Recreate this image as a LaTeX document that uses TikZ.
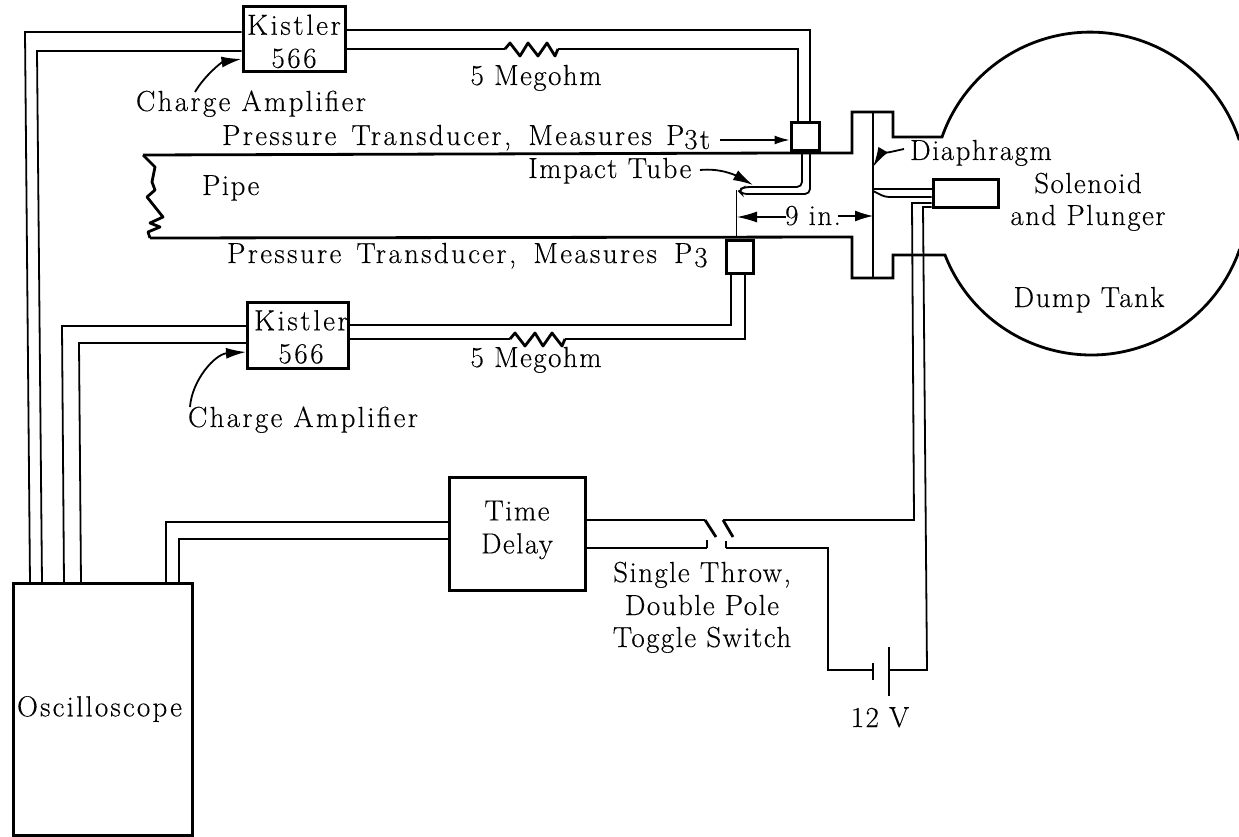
\documentclass[tikz,border=0pt]{standalone}
\usepackage{fontspec}
\setmainfont{Latin Modern Roman}[LetterSpace=5,FakeBold=0.3]
\usetikzlibrary{arrows.meta}
\tikzset{
  wire/.style={line width=1.8pt},
  pipeline/.style={line width=2.8pt},
  boxnode/.style={draw,line width=3pt,inner sep=0pt,align=center},
  lbl/.style={inner sep=0pt,anchor=base},
  lblw/.style={inner sep=0pt,anchor=base west},
  spaced/.style={execute at begin node={\addfontfeatures{LetterSpace=#1}}},
  bighead/.style={line width=1.8pt,-{Latex[length=20pt,width=11pt]}},
}
\newcommand{\lowtext}[1]{\raisebox{-4pt}{#1}}
\begin{document}
\begin{tikzpicture}[x=1pt,y=-1pt,>=latex,font=\fontsize{29}{33}\selectfont]
  \useasboundingbox (0,0) rectangle (1239,837);
  % boxes
  \node[boxnode,spaced=9,minimum width=102,minimum height=65] (kistlerA) at (294,39.5) {\rule{0pt}{24pt}Kistler\\566};
  \node[boxnode,spaced=9,minimum width=101,minimum height=66] (kistlerB) at (298,335) {\rule{0pt}{24pt}\hspace{6pt}Kistler\\\hspace{6pt}566};
  \node[boxnode,spaced=7.5,minimum width=179,minimum height=252] (scope) at (102.5,709) {\hspace{-6pt}\raisebox{2pt}{Oscilloscope}};
  \node[boxnode,minimum width=136,minimum height=113] (delay) at (517,533.5) {Time\\Delay\rule[-13pt]{0pt}{0pt}};
  \node[boxnode,minimum width=65,minimum height=28] (solenoid) at (965.5,194) {};
  \node[boxnode,minimum width=28,minimum height=28] (xducerA) at (805,137) {};
  \node[boxnode,minimum width=27,minimum height=33] (xducerB) at (739.5,256.5) {};
  % pipe, flange, tank
  \draw[pipeline] (143,155)--(790,153)--(852,153)--(852,112)--(893,112)--(893,137)--(942,137)
    arc[start angle=199.4,end angle=341.8,radius=157];
  \draw[pipeline] (150,238)--(852,237)--(852,278)--(893,278)--(893,255)--(945,255)
    arc[start angle=158.7,end angle=19,radius=157];
  \draw[pipeline,line join=round] (143,155)--(155,167)--(152,182)--(155,190)--(147,197)--(163,217)--(150,223)--(160,227)--(148,232)--(150,238);
  \draw[pipeline] (873,112)--(873,278);
  % signal wires, upper amplifier
  \draw[wire] (kistlerA.west |- 0,32)--(25,32)--(30,583);
  \draw[wire] (kistlerA.west |- 0,51)--(37,51)--(42,583);
  \draw[wire] (kistlerA.east |- 0,30)--(810,30)--(xducerA.north -| 810,0);
  \draw[wire,line join=round] (kistlerA.east |- 0,49)--(505,49);
  \draw[pipeline,line join=round] (505,49)--(510,43)--(520,56)--(528,43)--(538,56)--(547,43)--(555,56)--(558,49);
  \draw[wire] (558,49)--(798,49)--(xducerA.north -| 798,0);
  % signal wires, lower amplifier
  \draw[wire] (kistlerB.west |- 0,326)--(62,326)--(64,583);
  \draw[wire] (kistlerB.west |- 0,343)--(79,343)--(81,583);
  \draw[wire] (kistlerB.east |- 0,325)--(731,325)--(xducerB.south -| 731,0);
  \draw[wire] (kistlerB.east |- 0,339)--(510,339);
  \draw[pipeline,line join=round] (510,339)--(515,333)--(525,346)--(535,333)--(543,346)--(552,333)--(562,346)--(565,339);
  \draw[wire] (565,339)--(745,339)--(xducerB.south -| 745,0);
  % impact tube
  \draw[wire,rounded corners=5pt] (xducerA.south -| 802,0)--(802,187)--(745,187)--(738,190)--(742,194)--(810,194)--(xducerA.south -| 810,0);
  % trigger wires
  \draw[wire] (delay.west |- 0,522)--(166,522)--(166,583);
  \draw[wire] (delay.west |- 0,539)--(179,539)--(179,583);
  \draw[wire] (delay.east |- 0,520)--(705,520);
  \draw[pipeline] (705,520)--(716,537);
  \draw[wire] (delay.east |- 0,548)--(707,548);
  \draw[pipeline] (707,548)--(707,540);
  \draw[pipeline] (733,537)--(723,520);
  \draw[wire] (723,520)--(914,520)--(912,203)--(solenoid.west |- 0,203);
  \draw[pipeline] (726,541)--(726,548);
  \draw[wire] (726,548)--(828,548)--(828,670)--(873,670);
  \draw[wire] (889,670)--(927,670)--(923,207)--(solenoid.west |- 0,207);
  \draw[pipeline] (873,663)--(873,680);
  \draw[pipeline] (889,647)--(889,696);
  \draw[wire] (873,189)--(solenoid.west |- 0,189);
  \draw[wire,rounded corners=4pt] (873,191)--(885,197)--(solenoid.west |- 0,197);
  % pointers
  \draw[bighead] (195,92) .. controls (205,75) and (222,62) .. (kistlerA.west |- 0,59);
  \draw[bighead] (190,407) .. controls (192,380) and (215,354) .. (kistlerB.west |- 0,352);
  \draw[bighead] (700,170) .. controls (720,168) and (735,175) .. (753,185);
  \draw[bighead] (904,149) .. controls (890,152) and (880,155) .. (873,167);
  \draw[line width=1.5pt,-{Latex[length=15pt,width=9pt]}] (720,140)--(xducerA.west |- 0,140);
  \draw[line width=1pt] (736,190)--(736,237);
  \draw[line width=1.2pt,-{Latex[length=20pt,width=11pt]}] (786,217)--(737,217);
  \draw[line width=1.2pt,-{Latex[length=18pt,width=11pt]}] (838,216)--(873,216);
  % labels
  \node[lbl,spaced=8] (lblChargeA) at (251,111) {Charge Amplifier};
  \node[lbl,spaced=8] (lblChargeB) at (303,427) {Charge Amplifier};
  \node[lbl] (lblOhmA) at (536,85) {5 Megohm};
  \node[lbl] (lblOhmB) at (536,367) {5 Megohm};
  \node[lblw,spaced=8] (lblPressA) at (222,145) {Pressure\hspace{4pt} Transducer,\hspace{6pt} Measures\hspace{3pt} P\lowtext{3t}};
  \node[lblw,spaced=8] (lblPressB) at (227,263) {Pressure\hspace{4pt} Transducer,\hspace{6pt} Measures\hspace{6pt} P\hspace{2pt}\lowtext{3}};
  \node[lblw] (lblImpact) at (528,178) {Impact Tube};
  \node[lblw] (lblPipe) at (202,195) {Pipe};
  \node[lblw] (lblDiaph) at (910,160) {Diaphragm};
  \node[lbl] (lblSolenoid) at (1088,193) {Solenoid};
  \node[lbl] (lblPlunger) at (1088,225) {and Plunger};
  \node[lbl] (lblTank) at (1089,307) {Dump Tank};
  \node[lbl] (lblNine) at (813,225) {9 in.};
  \node[lbl] (lblThrow) at (702,582) {Single Throw,};
  \node[lbl] (lblPole) at (702,615) {Double Pole};
  \node[lbl] (lblToggle) at (702,647) {Toggle Switch};
  \node[lbl] (lblVolt) at (880,727) {12 V};
\end{tikzpicture}
\end{document}
